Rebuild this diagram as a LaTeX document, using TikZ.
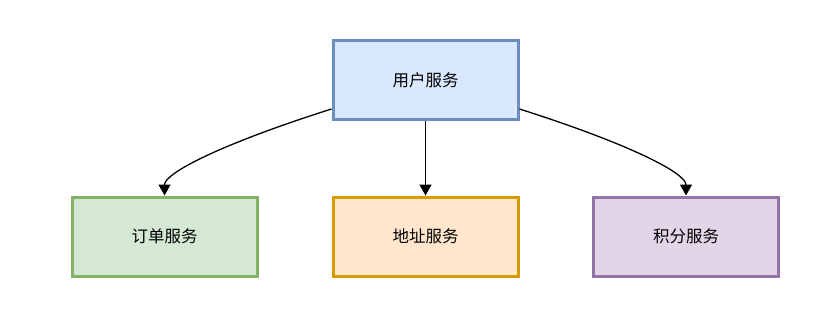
\documentclass[tikz,border=0pt]{standalone}
\usepackage{fontspec}
\newfontfamily\cjk{Noto Sans CJK SC}
\usetikzlibrary{arrows.meta,positioning,calc}
\definecolor{BlueFill}{HTML}{DAE8FC}
\definecolor{BlueLine}{HTML}{6C8EBF}
\definecolor{GreenFill}{HTML}{D5E8D4}
\definecolor{GreenLine}{HTML}{82B366}
\definecolor{OrangeFill}{HTML}{FFE6CC}
\definecolor{OrangeLine}{HTML}{D79B00}
\definecolor{PurpleFill}{HTML}{E1D5E7}
\definecolor{PurpleLine}{HTML}{9673A6}

\begin{document}
\begin{tikzpicture}[x=1pt,y=-1pt,font=\cjk\fontsize{16.5}{19}\selectfont,
    svc/.style={rectangle,line width=3pt,minimum width=185pt,minimum height=79pt,inner sep=0pt},
    link/.style={line width=1.3pt,-{Triangle[width=12pt,length=11pt]}}]
    \useasboundingbox (0,0) rectangle (824,326);
    \node[svc,draw=BlueLine,fill=BlueFill] (user) at (425.5,80.5){用户服务};
    \node[svc,draw=GreenLine,fill=GreenFill] (order) at (164.5,236.5){订单服务};
    \node[svc,draw=OrangeLine,fill=OrangeFill] (addr) at (425.5,236.5){地址服务};
    \node[svc,draw=PurpleLine,fill=PurpleFill] (point) at (686,236.5){积分服务};
    % start points and bends of the side links
    \coordinate (l0) at (user.west|-0,109);
    \coordinate (lb) at (order.north|-0,162);
    \coordinate (r0) at (user.east|-0,109);
    \coordinate (rb) at (point.north|-0,162);
    \draw[link] (l0) .. controls ($(l0)!.667!(lb)$) and ($(order.north)!.667!(lb)$) .. (order.north);
    \draw[link] (user.south) -- (addr.north);
    \draw[link] (r0) .. controls ($(r0)!.667!(rb)$) and ($(point.north)!.667!(rb)$) .. (point.north);
  \end{tikzpicture}
\end{document}
